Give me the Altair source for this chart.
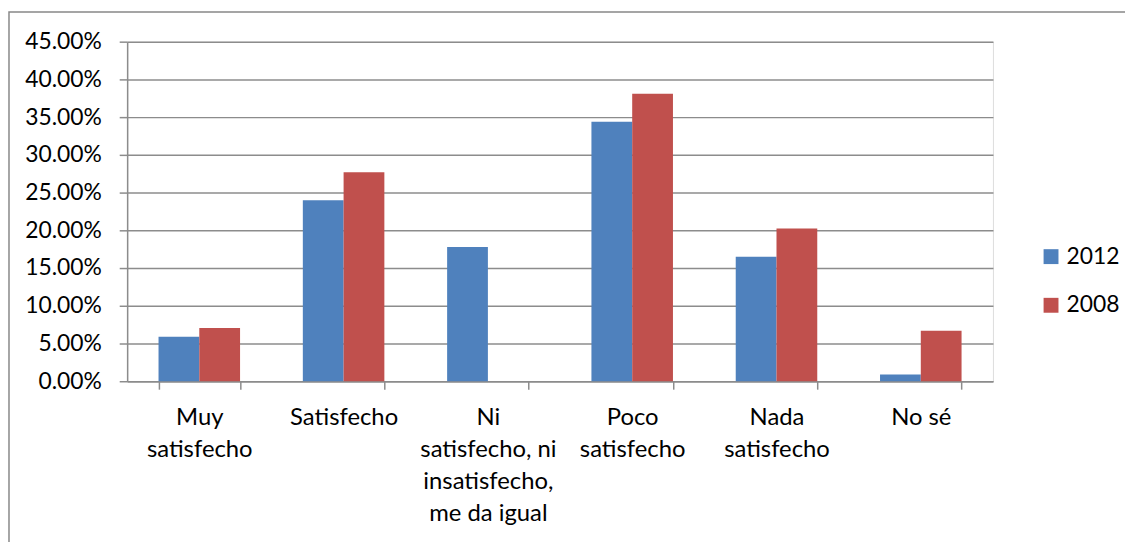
import altair as alt
import pandas as pd

categories = ["Muy|satisfecho", "Satisfecho", "Ni|satisfecho, ni|insatisfecho,|me da igual",
              "Poco|satisfecho", "Nada|satisfecho", "No sé"]
series = ["2012", "2008"]
values_2012 = [0.059, 0.240, 0.178, 0.344, 0.165, 0.009]
values_2008 = [0.0705, 0.277, 0.0, 0.381, 0.2025, 0.067]

rows = []
for c, a, b in zip(categories, values_2012, values_2008):
    rows.append({"cat": c, "year": "2012", "v": a})
    rows.append({"cat": c, "year": "2008", "v": b})
df = pd.DataFrame(rows)

FONT = "Lato"
GRID = "#8c8c8c"

bars = alt.Chart(df).mark_bar().encode(
    x=alt.X("cat:N", sort=categories, title=None,
            scale=alt.Scale(paddingInner=0.435, paddingOuter=0.2175),
            axis=alt.Axis(labelAngle=0,
                          labelExpr="isValid(datum.value) ? split(datum.value, '|') : ''",
                          labelFont=FONT, labelFontSize=24, labelColor="#000",
                          labelLineHeight=32, labelPadding=17, labelBaseline="top",
                          tickBand="extent", tickSize=8, tickColor=GRID, tickWidth=1.5,
                          domainColor=GRID, domainWidth=1.5, grid=False, labelLimit=220)),
    xOffset=alt.XOffset("year:N", sort=series),
    y=alt.Y("v:Q", title=None,
            scale=alt.Scale(domain=[0, 0.45], nice=False),
            axis=alt.Axis(format=".2%", values=[i * 0.05 for i in range(10)],
                          labelFont=FONT, labelFontSize=23, labelColor="#000",
                          labelPadding=18, tickSize=8, tickColor=GRID, tickWidth=1.5,
                          domainColor=GRID, domainWidth=1.5, gridColor=GRID, gridWidth=1.5)),
    color=alt.Color("year:N", sort=series,
                    scale=alt.Scale(domain=series, range=["#4F81BD", "#C0504D"]),
                    legend=alt.Legend(title=None, orient="none", legendX=919, legendY=205,
                                      symbolType="square", symbolSize=225,
                                      symbolStrokeWidth=0, labelFont=FONT,
                                      labelFontSize=23, labelColor="#000",
                                      rowPadding=25, labelOffset=4)),
)

border = alt.Chart(pd.DataFrame({"k": [0]})).mark_rect(
    fill=None, stroke="#888888", strokeWidth=1.5
).encode(x=alt.value(-119), x2=alt.value(1300), y=alt.value(-30), y2=alt.value(700))

chart = alt.layer(border, bars).properties(
    width=872, height=342,
    autosize=alt.AutoSizeParams(type="none"),
    padding={"left": 120, "top": 32, "right": 133, "bottom": 160},
).configure_view(stroke=None).configure(background="white")

chart.save("out.html", embed_options={"renderer": "svg", "actions": False})
